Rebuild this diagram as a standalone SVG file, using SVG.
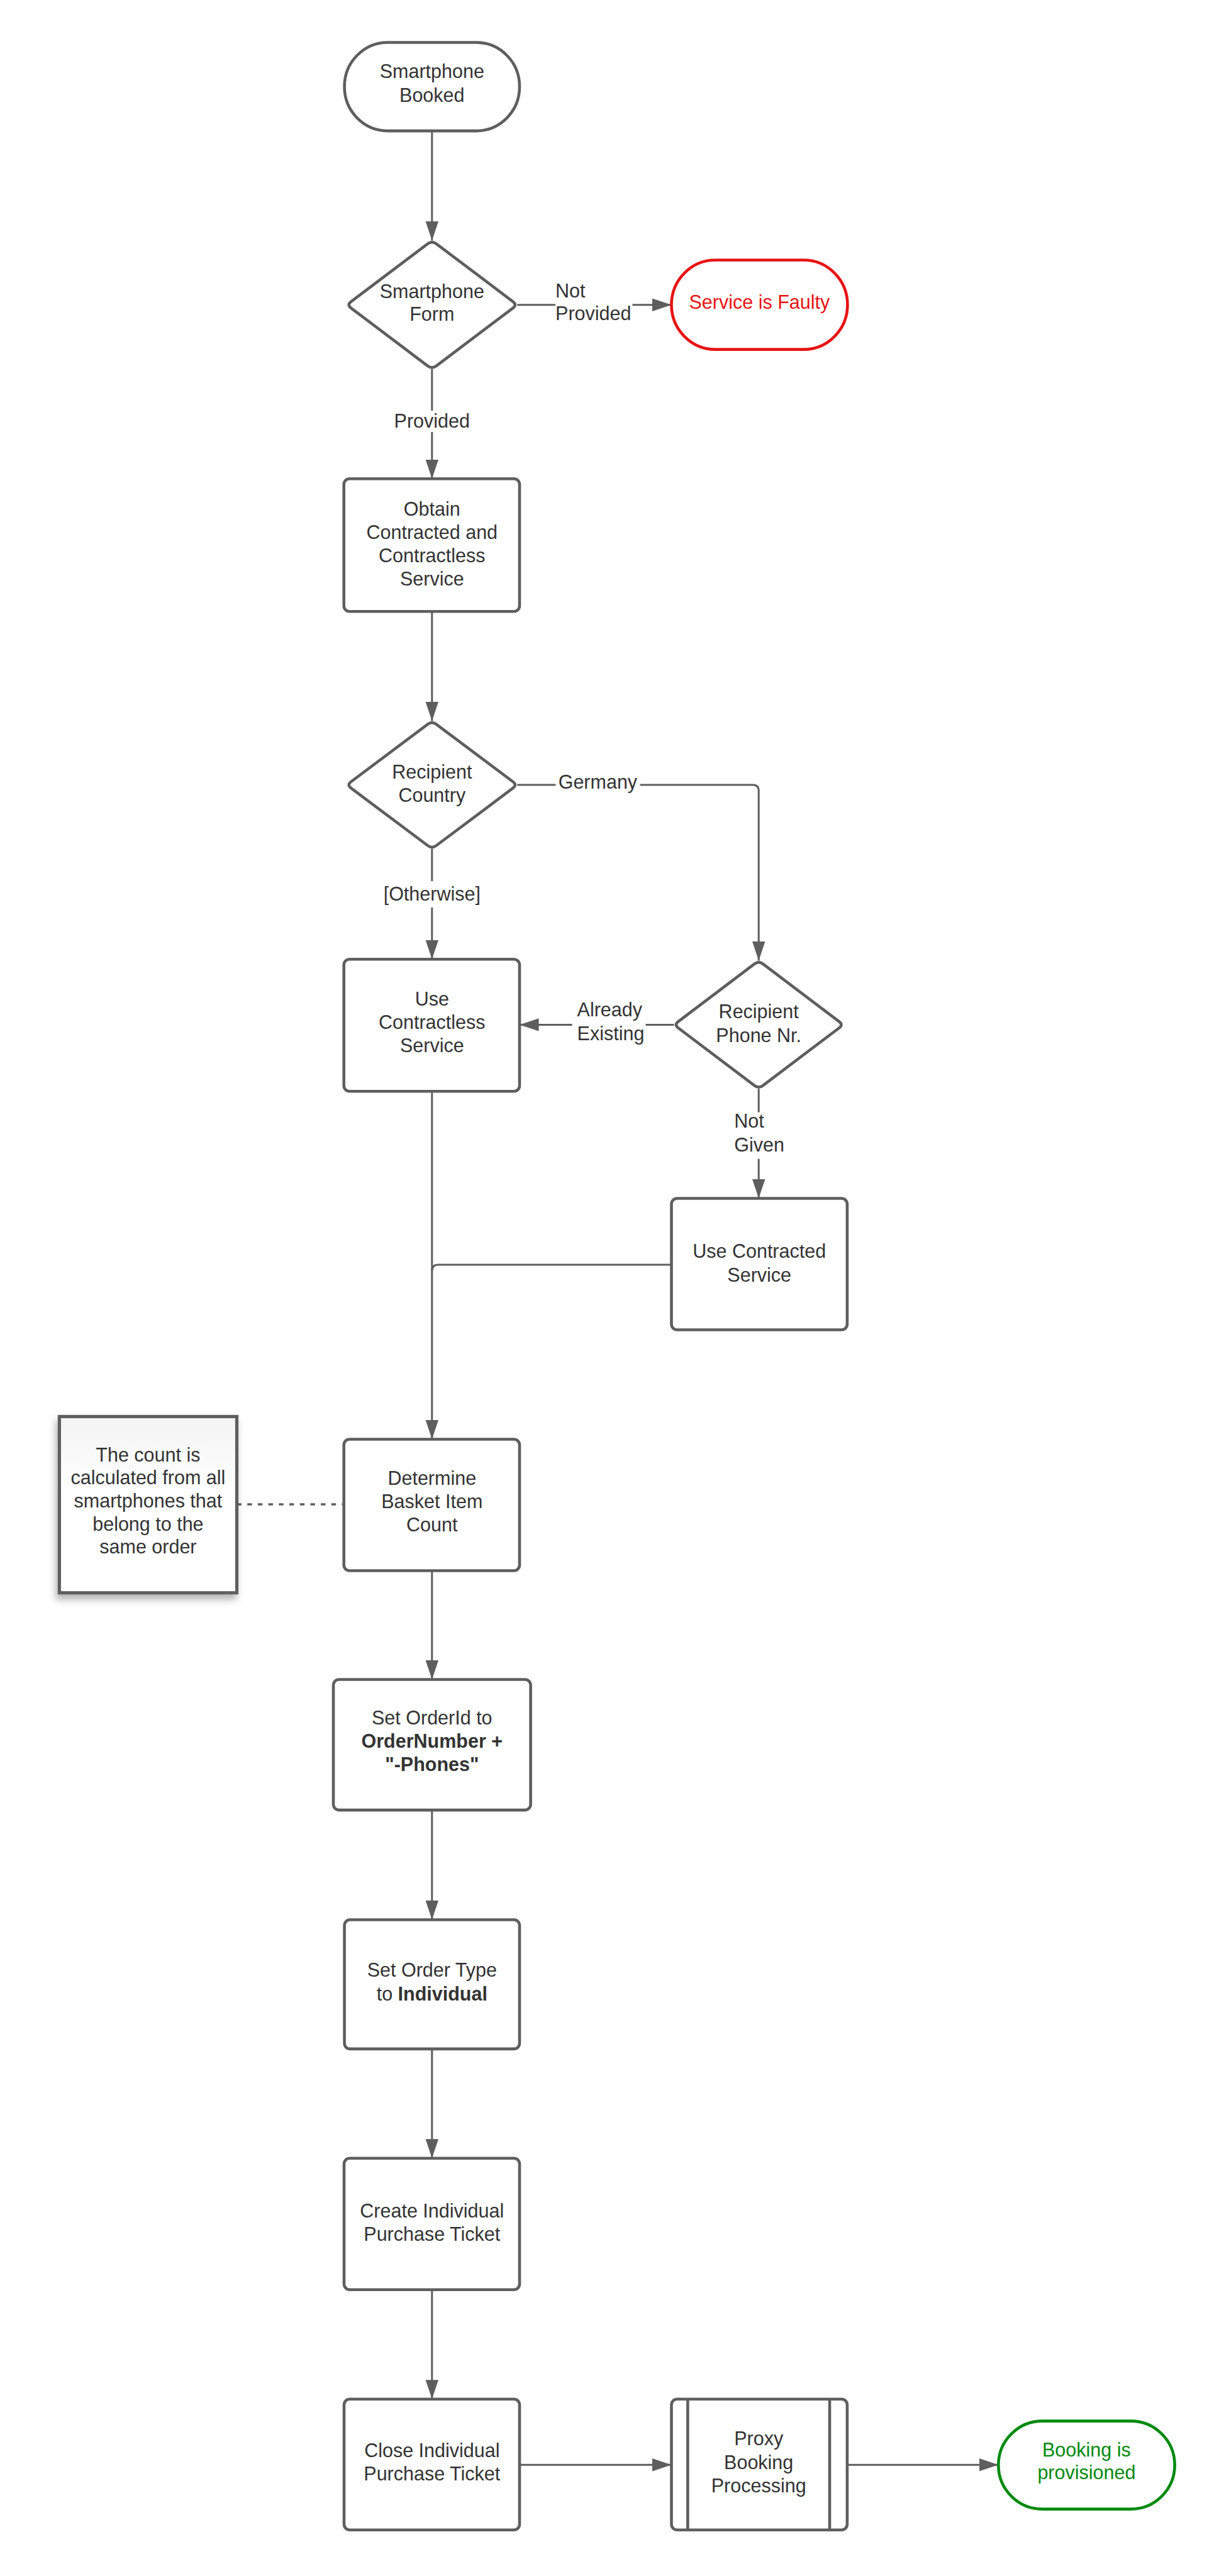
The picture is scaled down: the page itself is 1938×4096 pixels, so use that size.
<svg xmlns="http://www.w3.org/2000/svg" width="1938" height="4096" viewBox="0 0 1938 4096">
<style>
.node{fill:#ffffff;stroke:#5e5e5e;stroke-width:4.6}
.red{stroke:#e81313}
.green{stroke:#008a0e}
.edge{fill:none;stroke:#5e5e5e;stroke-width:3}
.t{font-family:"Liberation Sans",Arial,sans-serif;font-size:30.5px;fill:#333333;text-anchor:middle}
.l{text-anchor:start}
.b{font-weight:bold}
.tr{fill:#e81313}
.tg{fill:#008a0e}
</style>
<defs>
<marker id="arr" markerUnits="userSpaceOnUse" markerWidth="31" markerHeight="21" refX="30.5" refY="10.2" orient="auto" viewBox="0 0 31 21">
<path d="M0,0 L30.5,10.2 L0,20.4 Z" fill="#5e5e5e"/>
</marker>
<linearGradient id="noteFill" x1="0" y1="0" x2="0" y2="1">
<stop offset="0" stop-color="#f4f4f4"/>
<stop offset="0.45" stop-color="#ffffff"/>
</linearGradient>
<filter id="shadow" x="-20%" y="-20%" width="140%" height="140%">
<feDropShadow dx="-3" dy="8" stdDeviation="6" flood-color="#000000" flood-opacity="0.3"/>
</filter>
</defs>

<g id="connectors">
<path class="edge" d="M686.8,208.1 V382.5" marker-end="url(#arr)"/>
<path class="edge" d="M822.3,484.7 H883"/>
<path class="edge" d="M1005.5,484.7 H1067.5" marker-end="url(#arr)"/>
<path class="edge" d="M686.8,586.9 V653"/>
<path class="edge" d="M686.8,687 V761.3" marker-end="url(#arr)"/>
<path class="edge" d="M686.8,972.2 V1146.6" marker-end="url(#arr)"/>
<path class="edge" d="M686.8,1349.6 V1401"/>
<path class="edge" d="M686.8,1443 V1525.3" marker-end="url(#arr)"/>
<path class="edge" d="M822.3,1248.1 H883.4"/>
<path class="edge" d="M1017.5,1248.1 H1196.9 Q1206.2,1248.1 1206.2,1257.4 V1527.6" marker-end="url(#arr)"/>
<path class="edge" d="M1071.6,1629.4 H1026.5"/>
<path class="edge" d="M909.6,1629.4 H826" marker-end="url(#arr)"/>
<path class="edge" d="M1206.2,1731.2 V1768.6"/>
<path class="edge" d="M1206.2,1842.6 V1905.5" marker-end="url(#arr)"/>
<path class="edge" d="M686.8,1735.3 V2288.5" marker-end="url(#arr)"/>
<path class="edge" d="M1067.5,2011 H696.8 Q686.8,2011 686.8,2021"/>
<path class="edge" d="M376.5,2392 H547.6" stroke-dasharray="7.4 9.3" style="stroke-width:3.7"/>
<path class="edge" d="M686.8,2497.5 V2670.5" marker-end="url(#arr)"/>
<path class="edge" d="M686.8,2878.1 V3052.5" marker-end="url(#arr)"/>
<path class="edge" d="M686.8,3257.9 V3431.8" marker-end="url(#arr)"/>
<path class="edge" d="M686.8,3640.8 V3814.7" marker-end="url(#arr)"/>
<path class="edge" d="M826,3919.2 H1067.5" marker-end="url(#arr)"/>
<path class="edge" d="M1346.9,3919.2 H1587.3" marker-end="url(#arr)"/>
<text class="t l" x="883.1" y="472.7">Not</text>
<text class="t l" x="883.1" y="509.4">Provided</text>
<text class="t" x="686.8" y="679.5">Provided</text>
<text class="t" x="686.8" y="1432.4">[Otherwise]</text>
<text class="t" x="950.4" y="1254.3">Germany</text>
<text class="t l" x="917.6" y="1616.3">Already</text>
<text class="t l" x="917.6" y="1654.2">Existing</text>
<text class="t l" x="1167.2" y="1793.4">Not</text>
<text class="t l" x="1167.2" y="1831.1">Given</text>
</g>

<g id="start">
<rect class="node" x="547.6" y="67.5" width="278.4" height="140.6" rx="69" ry="70"/>
<text class="t" x="686.8" y="124">Smartphone</text>
<text class="t" x="686.8" y="161.9">Booked</text>
</g>

<g id="smartphone-form">
<path class="node" d="M680.0,387.6 Q686.8,382.5 693.6,387.6 L815.5,479.6 Q822.3,484.7 815.5,489.8 L693.6,581.8 Q686.8,586.9 680.0,581.8 L558.1,489.8 Q551.3,484.7 558.1,479.6 Z"/>
<text class="t" x="686.8" y="473.6">Smartphone</text>
<text class="t" x="686.8" y="510.3">Form</text>
</g>

<g id="service-faulty">
<rect class="node red" x="1067.5" y="413.5" width="279.9" height="142.1" rx="70" ry="71"/>
<text class="t tr" x="1207.4" y="491.2">Service is Faulty</text>
</g>

<g id="obtain">
<rect class="node" x="546.7" y="761.3" width="279.3" height="210.9" rx="9"/>
<text class="t" x="686.8" y="819.6">Obtain</text>
<text class="t" x="686.8" y="856.6">Contracted and</text>
<text class="t" x="686.8" y="893.6">Contractless</text>
<text class="t" x="686.8" y="930.6">Service</text>
</g>

<g id="recipient-country">
<path class="node" d="M680.0,1151.7 Q686.8,1146.6 693.6,1151.7 L815.5,1243.0 Q822.3,1248.1 815.5,1253.2 L693.6,1344.5 Q686.8,1349.6 680.0,1344.5 L558.1,1253.2 Q551.3,1248.1 558.1,1243.0 Z"/>
<text class="t" x="686.8" y="1237.7">Recipient</text>
<text class="t" x="686.8" y="1274.7">Country</text>
</g>

<g id="use-contractless">
<rect class="node" x="546.7" y="1525.3" width="279.3" height="210" rx="9"/>
<text class="t" x="686.8" y="1598.8">Use</text>
<text class="t" x="686.8" y="1635.9">Contractless</text>
<text class="t" x="686.8" y="1673">Service</text>
</g>

<g id="recipient-phone">
<path class="node" d="M1199.5,1532.7 Q1206.2,1527.6 1212.9,1532.7 L1334.1,1624.3 Q1340.8,1629.4 1334.1,1634.5 L1212.9,1726.1 Q1206.2,1731.2 1199.5,1726.1 L1078.3,1634.5 Q1071.6,1629.4 1078.3,1624.3 Z"/>
<text class="t" x="1206.2" y="1618.8">Recipient</text>
<text class="t" x="1206.2" y="1656.5">Phone Nr.</text>
</g>

<g id="use-contracted">
<rect class="node" x="1067.5" y="1905.5" width="279.4" height="209" rx="9"/>
<text class="t" x="1207.2" y="2000">Use Contracted</text>
<text class="t" x="1207.2" y="2037.8">Service</text>
</g>

<g id="note">
<rect x="94.4" y="2252.4" width="282.1" height="280.3" fill="url(#noteFill)" stroke="#5e5e5e" stroke-width="5.2" filter="url(#shadow)"/>
<text class="t" x="235.4" y="2323.6">The count is</text>
<text class="t" x="235.4" y="2360.3">calculated from all</text>
<text class="t" x="235.4" y="2397.3">smartphones that</text>
<text class="t" x="235.4" y="2434.3">belong to the</text>
<text class="t" x="235.4" y="2470.4">same order</text>
</g>

<g id="determine">
<rect class="node" x="546.7" y="2288.5" width="279.3" height="209" rx="9"/>
<text class="t" x="686.8" y="2360.6">Determine</text>
<text class="t" x="686.8" y="2397.6">Basket Item</text>
<text class="t" x="686.8" y="2434.6">Count</text>
</g>

<g id="set-orderid">
<rect class="node" x="530" y="2670.5" width="313.6" height="207.6" rx="9"/>
<text class="t" x="686.8" y="2741.5">Set OrderId to</text>
<text class="t b" x="686.8" y="2778.7">OrderNumber +</text>
<text class="t b" x="686.8" y="2815.7">"-Phones"</text>
</g>

<g id="set-order-type">
<rect class="node" x="547.6" y="3052.5" width="278.4" height="205.4" rx="9"/>
<text class="t" x="686.8" y="3143.2">Set Order Type</text>
<text class="t" x="686.8" y="3180.5">to <tspan class="b">Individual</tspan></text>
</g>

<g id="create-ticket">
<rect class="node" x="547" y="3431.8" width="279" height="209" rx="9"/>
<text class="t" x="686.8" y="3526.1">Create Individual</text>
<text class="t" x="686.8" y="3562.7">Purchase Ticket</text>
</g>

<g id="close-ticket">
<rect class="node" x="547" y="3814.7" width="279" height="208" rx="9"/>
<text class="t" x="686.8" y="3906.7">Close Individual</text>
<text class="t" x="686.8" y="3943.8">Purchase Ticket</text>
</g>

<g id="proxy-booking">
<rect class="node" x="1067.5" y="3814.7" width="279.4" height="208" rx="9"/>
<line x1="1093.4" y1="3814.7" x2="1093.4" y2="4022.7" stroke="#5e5e5e" stroke-width="4.6"/>
<line x1="1319" y1="3814.7" x2="1319" y2="4022.7" stroke="#5e5e5e" stroke-width="4.6"/>
<text class="t" x="1206.2" y="3888">Proxy</text>
<text class="t" x="1206.2" y="3925.5">Booking</text>
<text class="t" x="1206.2" y="3962.5">Processing</text>
</g>

<g id="booking-provisioned">
<rect class="node green" x="1587.3" y="3849.6" width="280.3" height="140" rx="70" ry="70"/>
<text class="t tg" x="1727.4" y="3906">Booking is</text>
<text class="t tg" x="1727.4" y="3942.1">provisioned</text>
</g>
</svg>
